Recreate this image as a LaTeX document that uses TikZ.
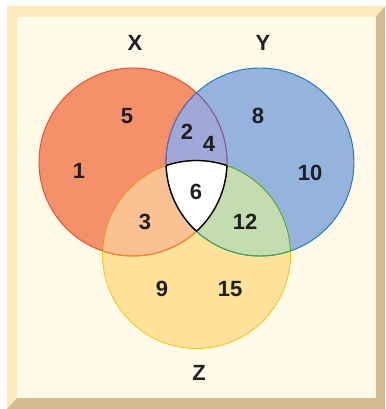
\documentclass[tikz,border=0pt]{standalone}
\usepackage{fontspec}
\setmainfont{Liberation Sans}
\usetikzlibrary{positioning}

\definecolor{paper}{HTML}{FFFBE8}
\definecolor{bevellight}{HTML}{FEE8BE}
\definecolor{beveldark}{HTML}{D4BB8F}
\definecolor{xfill}{HTML}{F4906A}
\definecolor{yfill}{HTML}{94B4DE}
\definecolor{zfill}{HTML}{FEE29A}
\definecolor{xyfill}{HTML}{A0A8D8}
\definecolor{xzfill}{HTML}{FAC192}
\definecolor{yzfill}{HTML}{C5DCB0}
\definecolor{xline}{HTML}{EC4B2A}
\definecolor{yline}{HTML}{1A72B8}
\definecolor{zline}{HTML}{F7C51C}
\definecolor{xyline}{HTML}{6E62A8}
\definecolor{xzline}{HTML}{F28A26}
\definecolor{yzline}{HTML}{3DAA44}

\begin{document}
\begin{tikzpicture}[
    x=1pt, y=-1pt,
    num/.style={
        font=\fontsize{22}{22}\selectfont\bfseries,
        text=black!88,
        inner sep=0pt
    },
    setname/.style={num},
    rim/.style={line width=0.9pt},
    core/.style={line width=1.3pt, black}
]
\useasboundingbox (0,0) rectangle (385,409);

% ============================================================
% RAMKA
% ============================================================
\fill[bevellight] (7,409) -- (7,6) -- (385,6) -- (376,17) -- (17,17) -- (17,398) -- cycle;
\fill[beveldark] (385,6) -- (385,409) -- (7,409) -- (17,398) -- (376,398) -- (376,17) -- cycle;
\fill[paper] (17,17) rectangle (376,398);

% ============================================================
% ZBIORY
% ============================================================
\coordinate (cx) at (133,162);
\coordinate (cy) at (260,162);
\coordinate (cz) at (196.5,254.5);
\def\rad{94}

\fill[xfill] (cx) circle[radius=\rad];
\fill[yfill] (cy) circle[radius=\rad];
\fill[zfill] (cz) circle[radius=\rad];

% czesci wspolne
\begin{scope}
    \clip (cx) circle[radius=\rad];
    \fill[xyfill] (cy) circle[radius=\rad];
    \fill[xzfill] (cz) circle[radius=\rad];
\end{scope}
\begin{scope}
    \clip (cy) circle[radius=\rad];
    \fill[yzfill] (cz) circle[radius=\rad];
\end{scope}
\begin{scope}
    \clip (cx) circle[radius=\rad];
    \clip (cy) circle[radius=\rad];
    \fill[white] (cz) circle[radius=\rad];
\end{scope}

% ============================================================
% KONTURY
% ============================================================
\draw[rim, xline] (cx) circle[radius=\rad];
\draw[rim, yline] (cy) circle[radius=\rad];
\draw[rim, zline] (cz) circle[radius=\rad];

\begin{scope}
    \clip (cy) circle[radius=\rad];
    \draw[rim, xyline] (cx) circle[radius=\rad];
\end{scope}
\begin{scope}
    \clip (cx) circle[radius=\rad];
    \draw[rim, xyline] (cy) circle[radius=\rad];
    \draw[rim, xzline] (cz) circle[radius=\rad];
\end{scope}
\begin{scope}
    \clip (cz) circle[radius=\rad];
    \draw[rim, xzline] (cx) circle[radius=\rad];
    \draw[rim, yzline] (cy) circle[radius=\rad];
\end{scope}
\begin{scope}
    \clip (cy) circle[radius=\rad];
    \draw[rim, yzline] (cz) circle[radius=\rad];
\end{scope}

% brzeg obszaru X, Y, Z
\begin{scope}
    \clip (cx) circle[radius=\rad];
    \clip (cy) circle[radius=\rad];
    \draw[core] (cz) circle[radius=\rad];
\end{scope}
\begin{scope}
    \clip (cx) circle[radius=\rad];
    \clip (cz) circle[radius=\rad];
    \draw[core] (cy) circle[radius=\rad];
\end{scope}
\begin{scope}
    \clip (cy) circle[radius=\rad];
    \clip (cz) circle[radius=\rad];
    \draw[core] (cx) circle[radius=\rad];
\end{scope}

% ============================================================
% ETYKIETY
% ============================================================
\node[setname] (nx) at (135,43) {X};
\node[setname] (ny) at (263,43) {Y};
\node[setname] (nz) at (199,373) {Z};

\node[num] (e5) at (127,116) {5};
\node[num] (e1) at (79,171) {1};
\node[num] (e2) at (187,132) {2};
\node[num] (e4) at (209,144) {4};
\node[num] (e8) at (258,116) {8};
\node[num] (e10) at (310,173) {10};
\node[num] (e6) at (196,192) {6};
\node[num] (e3) at (145,222) {3};
\node[num] (e12) at (245,222) {12};
\node[num] (e9) at (162,289) {9};
\node[num] (e15) at (230,289) {15};

\end{tikzpicture}
\end{document}
